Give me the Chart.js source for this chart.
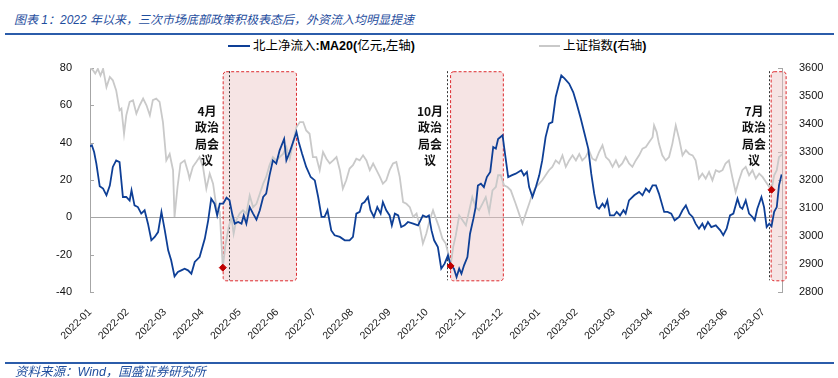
<!DOCTYPE html>
<html>
<head>
<meta charset="utf-8">
<script src="https://cdn.jsdelivr.net/npm/chart.js@4.4.0/dist/chart.umd.min.js"></script>
<style>
  body { margin: 0; background: #fff; }
  #wrap { position: relative; width: 838px; height: 378px; background: #fff; overflow: hidden; }
  #chart { position: absolute; left: 0; top: 0; }
  .title { position: absolute; left: 14px; top: 12px; font: italic 12px "Liberation Sans", "Noto Sans CJK SC"; color: #1F4E9E; white-space: nowrap; line-height: 17px; }
  .rule { position: absolute; left: 5px; width: 829px; height: 2px; background: #2B5CAA; }
  .source { position: absolute; left: 15px; top: 364px; font: italic 12.5px "Liberation Sans", "Noto Sans CJK SC"; color: #1F4E9E; white-space: nowrap; line-height: 16px; }
  .leg { position: absolute; top: 38px; font: 12.5px "Liberation Sans", "Noto Sans CJK SC"; color: #000; white-space: nowrap; line-height: 16px; }
  .leg b { font-weight: bold; }
  .swatch { position: absolute; height: 2px; top: 45px; }
</style>
</head>
<body>
<div id="wrap">
  <div class="title">图表 1：2022 年以来，三次市场底部政策积极表态后，外资流入均明显提速</div>
  <div class="rule" style="top:33px"></div>
  <div class="swatch" style="left:228px;width:22px;background:#0E3F96"></div>
  <div class="leg" style="left:253px">北上净流入<b>:MA20(</b>亿元<b>,</b>左轴<b>)</b></div>
  <div class="swatch" style="left:539px;width:21px;background:#C9C9C9"></div>
  <div class="leg" style="left:563px">上证指数<b>(</b>右轴<b>)</b></div>
  <canvas id="chart" width="838" height="378"></canvas>
  <div class="rule" style="top:362px"></div>
  <div class="source">资料来源：Wind，国盛证券研究所</div>
</div>
<script>
// x 轴：按图中刻度标签的间隔计（0 = 2022-01）
const monthLabels = ['2022-01','2022-02','2022-03','2022-04','2022-05','2022-06','2022-07','2022-08','2022-09','2022-10',
  '2022-11','2022-12','2023-01','2023-02','2023-03','2023-04','2023-05','2023-06','2023-07'];

// 北上净流入 MA20 (亿元, 左轴)
const flowPos = [0.00,0.05,0.11,0.17,0.26,0.35,0.44,0.53,0.61,0.70,
  0.79,0.88,0.97,1.06,1.11,1.19,1.28,1.37,1.46,1.55,
  1.64,1.73,1.82,1.91,2.00,2.09,2.17,2.26,2.35,2.44,
  2.53,2.62,2.71,2.80,2.93,3.07,3.16,3.24,3.33,3.40,
  3.47,3.56,3.65,3.73,3.80,3.87,3.96,4.05,4.11,4.18,
  4.27,4.36,4.45,4.54,4.63,4.71,4.80,4.89,4.98,5.07,
  5.19,5.25,5.34,5.43,5.52,5.58,5.67,5.78,5.90,6.01,
  6.10,6.19,6.27,6.35,6.45,6.54,6.68,6.81,6.94,7.03,
  7.12,7.21,7.27,7.34,7.43,7.50,7.59,7.68,7.77,7.83,
  7.92,8.01,8.07,8.15,8.24,8.32,8.41,8.50,8.64,8.77,
  8.90,8.99,9.06,9.13,
  9.20,9.30,9.39,9.48,9.57,9.64,9.73,9.80,9.87,9.93,
  10.00,10.09,10.16,10.25,10.31,10.37,10.45,10.53,10.61,10.70,
  10.78,10.85,10.91,11.03,11.07,11.18,11.27,11.38,11.53,11.60,
  11.68,11.74,11.83,11.92,12.01,12.09,12.18,12.27,12.36,12.45,
  12.54,12.60,12.69,12.81,12.92,13.01,13.12,13.21,13.32,13.40,
  13.48,13.55,13.61,13.70,13.76,13.83,13.90,14.01,14.08,14.17,
  14.26,14.32,14.41,14.55,14.68,14.77,14.86,14.95,15.04,15.13,
  15.21,15.35,15.44,15.54,15.63,15.75,15.84,15.93,16.02,16.11,
  16.19,16.28,16.37,16.43,16.52,16.61,16.73,16.85,16.93,17.02,
  17.11,17.20,17.31,17.38,17.44,17.53,17.62,17.71,17.77,17.84,
  17.95,18.02,18.09,18.16,18.22,18.29,18.36,18.42,18.49];
const flowMA20 = [38,38.6,35,28.8,16.6,15.4,11.8,17,27,30.5,
  29.6,10.9,10.9,9,14.5,6.4,5.5,2,3.8,-3.4,
  -12.3,-10.5,-7.9,2.9,-7,-17.7,-23,-31.6,-29.3,-28.4,
  -27.5,-28.4,-30.2,-23.9,-21.3,-11.4,-1.6,10,7.3,1,
  7.3,7.3,10.5,9.1,2,-3.4,-2.5,-3.4,1,-3.4,
  5.5,2,-1.2,3.8,10.9,12.7,22.5,30.5,28.8,35.9,
  42,30.5,35,40.4,45.7,40.4,34,27,21.6,19.8,
  10.9,0.2,0.2,3.8,-7,-9.6,-10.5,-12.3,-12.3,-10.5,
  2,2.9,7.3,8.2,10.9,3.8,0.2,5.5,2,8.2,
  3.8,1,-4.3,2,1,-5.2,-4.3,-2.5,-3.4,-4.3,
  1,0.2,1,-7,
  -12.3,-15.9,-27.5,-24.8,-20.4,-25.7,-27.5,-32,-27.5,-30.2,
  -25.7,-21.3,-8.8,-0.7,5.5,17,18,16.2,21.6,24.3,
  37.7,36.8,42,44,37.7,21.6,22.5,23.4,25.2,22.5,
  24.3,16.2,10.9,16.2,22.5,30.5,43,50.2,51,64.5,
  71.6,76,74.3,71.6,67,61,52.9,45.7,36.8,23.4,
  12.7,5.5,4.6,7.3,5.5,9.1,1,1,2.9,1,
  3.8,2,9.1,11.8,13.6,11.8,15.4,13.6,17.1,17.1,
  12.7,2.9,2.9,2,-1.6,0.2,3.8,6.4,2,0.2,
  -3.4,-6.1,-3.4,-6.1,-2.5,-5.2,-4.3,-7,-9.6,-6.1,
  1,2,10,5.5,4.6,9.1,2,0.2,-1.6,4.6,
  10.9,5.5,-5.2,-3.4,-4.8,2.9,5.5,17.1,23];

// 上证指数 (右轴)
const indexPos = [0.00,0.08,0.14,0.21,0.28,0.35,0.44,0.53,0.61,0.70,
  0.79,0.84,0.91,0.97,1.06,1.15,1.24,1.33,1.42,1.51,
  1.60,1.68,1.77,1.86,1.95,2.04,2.13,2.22,2.26,2.34,
  2.42,2.53,2.62,2.66,2.75,2.84,2.93,3.02,3.11,3.20,
  3.29,3.38,3.47,3.51,3.55,3.62,3.71,3.78,3.84,3.91,
  4.00,4.09,4.18,4.27,4.36,4.45,4.54,4.63,4.71,4.80,
  4.89,4.98,5.07,5.16,5.25,5.34,5.43,5.52,5.61,5.70,
  5.78,5.87,5.96,6.05,6.14,6.23,6.32,6.41,6.50,6.59,
  6.68,6.76,6.85,6.94,7.03,7.12,7.21,7.30,7.39,7.48,
  7.57,7.66,7.75,7.83,7.92,8.01,8.10,8.19,8.28,8.37,
  8.46,8.55,8.64,8.73,8.81,8.90,8.99,9.08,9.17,
  9.20,9.33,9.42,9.51,9.60,9.64,9.71,9.78,9.87,9.96,
  10.05,10.13,10.22,10.31,10.40,10.49,10.58,10.67,10.76,10.85,
  10.91,10.98,11.07,11.16,11.25,11.38,11.47,11.56,11.65,11.74,
  11.83,11.92,12.01,12.09,12.18,12.27,12.36,12.45,12.54,12.63,
  12.72,12.81,12.90,12.99,13.08,13.16,13.25,13.34,13.43,13.52,
  13.61,13.70,13.79,13.88,13.97,14.06,14.14,14.23,14.32,14.41,
  14.50,14.59,14.68,14.77,14.86,14.95,15.04,15.08,15.15,15.21,
  15.30,15.39,15.48,15.57,15.66,15.75,15.84,15.93,16.02,16.11,
  16.19,16.28,16.37,16.46,16.55,16.64,16.73,16.82,16.91,16.99,
  17.08,17.17,17.26,17.35,17.44,17.53,17.62,17.71,17.80,17.89,
  17.98,18.07,18.16,18.22,18.29,18.36,18.42,18.51];
const shIndex = [3600,3592,3580,3597,3573,3597,3532,3568,3556,3520,
  3449,3455,3365,3431,3479,3485,3437,3467,3491,3467,
  3431,3485,3491,3479,3407,3270,3293,3235,3068,3175,
  3259,3270,3229,3205,3247,3264,3282,3247,3169,3223,
  3187,3103,3086,2985,2887,2967,3032,3068,3008,3056,
  3080,3092,3080,3145,3103,3115,3151,3187,3211,3253,
  3282,3270,3282,3293,3318,3276,3336,3389,3407,3407,
  3377,3365,3282,3282,3235,3300,3276,3259,3270,3282,
  3235,3169,3199,3241,3253,3276,3270,3288,3270,3235,
  3259,3235,3211,3187,3199,3235,3259,3264,3211,3121,
  3115,3103,3068,3080,3038,2973,3008,3056,3092,
  3080,3032,2991,2973,2925,2893,2961,3003,3073,3056,
  3038,3086,3139,3103,3092,3115,3139,3086,3163,3175,
  3217,3217,3181,3175,3163,3115,3080,3044,3080,3115,
  3151,3175,3187,3199,3217,3235,3247,3270,3259,3288,
  3247,3270,3288,3270,3293,3270,3282,3306,3276,3270,
  3300,3324,3282,3270,3247,3270,3247,3259,3282,3259,
  3247,3270,3288,3312,3318,3336,3353,3395,3371,3330,
  3288,3270,3282,3330,3395,3347,3288,3306,3293,3288,
  3270,3205,3223,3205,3229,3199,3235,3229,3235,3259,
  3270,3211,3157,3199,3235,3247,3217,3235,3205,3223,
  3211,3193,3175,3165,3217,3235,3282,3292];

// 三次政治局会议
const meetingNames = ['4月', '10月', '7月'];
const meetingPos = [3.55, 9.64, 18.22];     // 会议时点的上证指数
const meetingIndex = [2887, 2893, 3165];
const meetingLinePos = [3.71, 9.55, 18.14];
const windowStart = [3.56, 9.64, 18.21];
const windowEnd = [5.52, 11.05, 18.61];
const labelPos = [3.13, 9.09, 17.75];

const BLUE = '#0E3F96';
const GRAY = '#C9C9C9';
const AXIS = '#A6A6A6';

const policyPlugin = {
  id: 'policy',
  beforeDatasetsDraw(chart) {
    const { ctx, chartArea, scales } = chart;
    const x = scales.x, y = scales.y;
    ctx.save();
    // 0 轴
    ctx.strokeStyle = AXIS;
    ctx.lineWidth = 1;
    ctx.beginPath();
    const y0 = Math.round(y.getPixelForValue(0)) + 0.5;
    ctx.moveTo(chartArea.left, y0);
    ctx.lineTo(chartArea.right, y0);
    ctx.stroke();
    // 内侧刻度
    [[y, chartArea.left, 4], [scales.y1, chartArea.right, -4]].forEach(([s, ax, d]) => {
      s.ticks.forEach(t => {
        const py = Math.round(s.getPixelForValue(t.value)) + 0.5;
        ctx.beginPath();
        ctx.moveTo(ax, py);
        ctx.lineTo(ax + d, py);
        ctx.stroke();
      });
    });
    // 阴影框
    for (let i = 0; i < windowStart.length; i++) {
      const x1 = x.getPixelForValue(windowStart[i]);
      const x2 = x.getPixelForValue(windowEnd[i]);
      const top = y.getPixelForValue(78);
      const bot = y.getPixelForValue(-34);
      ctx.beginPath();
      ctx.roundRect(x1, top, x2 - x1, bot - top, 3);
      ctx.fillStyle = 'rgba(236, 196, 196, 0.45)';
      ctx.fill();
      ctx.setLineDash([3, 2]);
      ctx.strokeStyle = '#DD2A2E';
      ctx.lineWidth = 1;
      ctx.stroke();
      // 会议时点虚线
      const lx = Math.round(x.getPixelForValue(meetingLinePos[i])) + 0.5;
      ctx.beginPath();
      ctx.setLineDash([2, 2]);
      ctx.strokeStyle = '#333';
      ctx.moveTo(lx, y.getPixelForValue(78.3));
      ctx.lineTo(lx, y.getPixelForValue(-33.7));
      ctx.stroke();
      ctx.setLineDash([]);
    }
    ctx.restore();
  },
  afterDraw(chart) {
    const { ctx, scales } = chart;
    ctx.save();
    ctx.fillStyle = '#111';
    ctx.font = 'bold 12px "Noto Sans CJK SC"';
    ctx.textAlign = 'center';
    ctx.textBaseline = 'middle';
    for (let i = 0; i < meetingNames.length; i++) {
      const cx = scales.x.getPixelForValue(labelPos[i]);
      const cy = scales.y.getPixelForValue(56.8);
      [meetingNames[i], '政治', '局会', '议'].forEach((t, k) => {
        ctx.fillText(t, cx, cy + k * 16.5);
      });
    }
    ctx.restore();
  }
};

new Chart(document.getElementById('chart'), {
  type: 'line',
  data: {
    datasets: [
      {
        label: '北上净流入:MA20(亿元,左轴)',
        data: flowPos.map((p, i) => ({ x: p, y: flowMA20[i] })),
        borderColor: BLUE,
        borderWidth: 1.8,
        pointRadius: 0,
        tension: 0,
        yAxisID: 'y',
        order: 1
      },
      {
        label: '上证指数(右轴)',
        data: indexPos.map((p, i) => ({ x: p, y: shIndex[i] })),
        borderColor: GRAY,
        borderWidth: 1.8,
        pointRadius: 0,
        tension: 0,
        yAxisID: 'y1',
        order: 2
      },
      {
        label: 'meeting',
        data: meetingPos.map((p, i) => ({ x: p, y: meetingIndex[i] })),
        showLine: false,
        pointStyle: 'rectRot',
        pointRadius: 3.5,
        pointBackgroundColor: '#C00000',
        pointBorderColor: '#C00000',
        yAxisID: 'y1',
        order: 0
      }
    ]
  },
  options: {
    responsive: false,
    animation: false,
    layout: { padding: { top: 68, left: 0, right: 0, bottom: 0 } },
    plugins: { legend: { display: false }, tooltip: { enabled: false } },
    scales: {
      x: {
        type: 'linear',
        min: 0,
        max: 18.5,
        grid: { display: false },
        border: { display: false },
        afterBuildTicks: s => { s.ticks = monthLabels.map((_, i) => ({ value: i })); },
        afterFit: s => { s.height = 86; },
        ticks: {
          autoSkip: false,
          maxRotation: 45,
          minRotation: 45,
          padding: 6,
          color: '#222',
          font: { family: 'Liberation Sans', size: 10.5 },
          callback: v => monthLabels[v]
        }
      },
      y: {
        position: 'left',
        min: -40,
        max: 80,
        grid: { display: false },
        border: { display: true, color: AXIS },
        afterFit: s => { s.width = 90; },
        ticks: { stepSize: 20, padding: 10, color: '#111', font: { family: 'Liberation Sans', size: 11 } }
      },
      y1: {
        position: 'right',
        min: 2800,
        max: 3600,
        grid: { display: false },
        border: { display: true, color: AXIS },
        afterFit: s => { s.width = 56; },
        ticks: { stepSize: 100, padding: 9, color: '#111', font: { family: 'Liberation Sans', size: 11 },
          callback: v => String(v) }
      }
    }
  },
  plugins: [policyPlugin]
});
</script>
</body>
</html>
